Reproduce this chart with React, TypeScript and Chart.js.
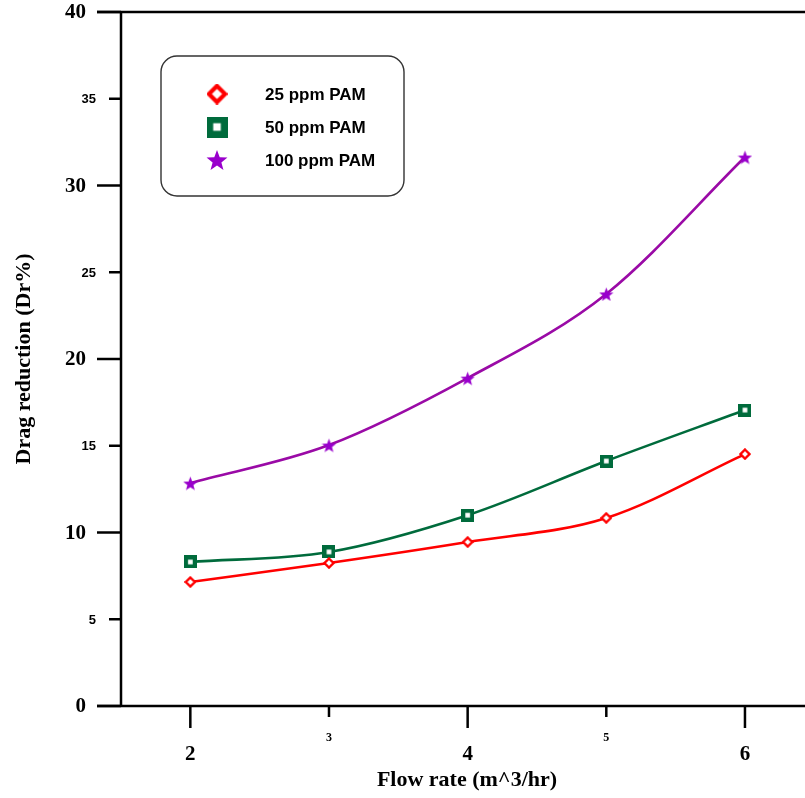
import React, { useEffect, useRef } from "react";
import { Chart, registerables } from "chart.js";

Chart.register(...registerables);

// Flow rate (m^3/hr)
const flowRates = [2, 3, 4, 5, 6];
// Drag reduction (Dr%) for each polymer concentration
const pam25 = [7.15, 8.24, 9.45, 10.84, 14.52];
const pam50 = [8.3, 8.88, 11.0, 14.12, 17.06];
const pam100 = [12.85, 15.04, 18.9, 23.75, 31.64];

const seriesNames = ["25 ppm PAM", "50 ppm PAM", "100 ppm PAM"];
const yTicks = [0, 5, 10, 15, 20, 25, 30, 35, 40];
const xTicks = [2, 3, 4, 5, 6];

const RED = "#ff0000";
const GREEN = "#006b3c";
const PURPLE_LINE = "#9a0aa6";
const PURPLE_MARK = "#9900cc";

type Kind = "diamond" | "square" | "star";

function makeMarker(kind: Kind, size: number): HTMLCanvasElement {
  const c = document.createElement("canvas");
  c.width = size;
  c.height = size;
  const g = c.getContext("2d")!;
  const m = size / 2;
  if (kind === "diamond") {
    const lw = Math.max(2.2, size * 0.2);
    const r = m - lw / 2 - 0.3;
    g.beginPath();
    g.moveTo(m, m - r);
    g.lineTo(m + r, m);
    g.lineTo(m, m + r);
    g.lineTo(m - r, m);
    g.closePath();
    g.fillStyle = "#ffffff";
    g.fill();
    g.lineWidth = lw;
    g.strokeStyle = RED;
    g.stroke();
  } else if (kind === "square") {
    g.fillStyle = GREEN;
    g.fillRect(0, 0, size, size);
    const inner = size * 0.36;
    g.fillStyle = "#ffffff";
    g.fillRect(m - inner / 2, m - inner / 2, inner, inner);
  } else {
    const R = m;
    const r = R * 0.42;
    g.beginPath();
    for (let i = 0; i < 10; i++) {
      const rad = i % 2 === 0 ? R : r;
      const a = -Math.PI / 2 + (i * Math.PI) / 5;
      const px = m + rad * Math.cos(a);
      const py = m + 1 + rad * Math.sin(a);
      if (i === 0) g.moveTo(px, py);
      else g.lineTo(px, py);
    }
    g.closePath();
    g.fillStyle = PURPLE_MARK;
    g.fill();
  }
  return c;
}

export default function App() {
  const canvasRef = useRef<HTMLCanvasElement | null>(null);

  useEffect(() => {
    const canvas = canvasRef.current;
    if (!canvas) return;

    const plotMarks = {
      diamond: makeMarker("diamond", 12),
      square: makeMarker("square", 13),
      star: makeMarker("star", 15),
    };
    const legendMarks = {
      diamond: makeMarker("diamond", 21),
      square: makeMarker("square", 21),
      star: makeMarker("star", 22),
    };

    const axesPlugin = {
      id: "paperAxes",
      afterDraw(chart: any) {
        const ctx = chart.ctx as CanvasRenderingContext2D;
        const { left, right, top, bottom } = chart.chartArea;
        const xs = chart.scales.x;
        const ys = chart.scales.y;
        ctx.save();
        ctx.strokeStyle = "#000";
        ctx.lineWidth = 2.5;
        ctx.lineCap = "butt";

        // frame lines: left axis, top and bottom edges
        ctx.beginPath();
        ctx.moveTo(left, top);
        ctx.lineTo(left, bottom);
        ctx.moveTo(97, top);
        ctx.lineTo(right, top);
        ctx.moveTo(97, bottom);
        ctx.lineTo(right, bottom);
        ctx.stroke();

        // y ticks and labels
        ctx.fillStyle = "#000";
        ctx.textBaseline = "middle";
        ctx.textAlign = "right";
        for (const v of yTicks) {
          const y = ys.getPixelForValue(v);
          const major = v % 10 === 0;
          ctx.beginPath();
          ctx.moveTo(major ? 97 : 109, y);
          ctx.lineTo(left, y);
          ctx.stroke();
          if (major) {
            ctx.font = "bold 21px 'Liberation Serif', 'Times New Roman', serif";
            ctx.fillText(String(v), 86, y + 1);
          } else {
            ctx.font = "bold 13px 'Liberation Sans', Arial, sans-serif";
            ctx.fillText(String(v), 96, y + 1);
          }
        }

        // x ticks and labels
        ctx.textAlign = "center";
        for (const v of xTicks) {
          const x = xs.getPixelForValue(v);
          const major = v % 2 === 0;
          ctx.beginPath();
          ctx.moveTo(x, bottom);
          ctx.lineTo(x, major ? 728 : 717);
          ctx.stroke();
          if (major) {
            ctx.font = "bold 21px 'Liberation Serif', 'Times New Roman', serif";
            ctx.fillText(String(v), x, 755);
          } else {
            ctx.font = "bold 12px 'Liberation Serif', 'Times New Roman', serif";
            ctx.fillText(String(v), x, 738);
          }
        }

        // axis titles
        ctx.font = "bold 22px 'Liberation Serif', 'Times New Roman', serif";
        ctx.fillText("Flow rate (m^3/hr)", 467, 780);
        ctx.save();
        ctx.translate(24, (top + bottom) / 2);
        ctx.rotate(-Math.PI / 2);
        ctx.fillText("Drag reduction (Dr%)", 0, 0);
        ctx.restore();

        // legend box
        const bx = 161, by = 56, bw = 243, bh = 140, br = 16;
        ctx.beginPath();
        ctx.moveTo(bx + br, by);
        ctx.lineTo(bx + bw - br, by);
        ctx.arcTo(bx + bw, by, bx + bw, by + br, br);
        ctx.lineTo(bx + bw, by + bh - br);
        ctx.arcTo(bx + bw, by + bh, bx + bw - br, by + bh, br);
        ctx.lineTo(bx + br, by + bh);
        ctx.arcTo(bx, by + bh, bx, by + bh - br, br);
        ctx.lineTo(bx, by + br);
        ctx.arcTo(bx, by, bx + br, by, br);
        ctx.closePath();
        ctx.fillStyle = "#fff";
        ctx.fill();
        ctx.lineWidth = 1.4;
        ctx.strokeStyle = "#333";
        ctx.stroke();

        const marks = [legendMarks.diamond, legendMarks.square, legendMarks.star];
        const rows = [94, 127, 160];
        ctx.fillStyle = "#000";
        ctx.textAlign = "left";
        ctx.font = "bold 17px 'Liberation Sans', Arial, sans-serif";
        rows.forEach((ry, i) => {
          const mk = marks[i];
          ctx.drawImage(mk, 217 - mk.width / 2, ry - mk.height / 2);
          ctx.fillText(seriesNames[i], 265, ry + 1);
        });
        ctx.restore();
      },
    };

    const toPoints = (vals: number[]) => flowRates.map((x, i) => ({ x, y: vals[i] }));

    const chart = new Chart(canvas, {
      type: "line",
      data: {
        datasets: [
          {
            label: seriesNames[0],
            data: toPoints(pam25),
            borderColor: RED,
            borderWidth: 2.6,
            pointStyle: plotMarks.diamond as any,
            cubicInterpolationMode: "monotone",
          },
          {
            label: seriesNames[1],
            data: toPoints(pam50),
            borderColor: GREEN,
            borderWidth: 2.6,
            pointStyle: plotMarks.square as any,
            cubicInterpolationMode: "monotone",
          },
          {
            label: seriesNames[2],
            data: toPoints(pam100),
            borderColor: PURPLE_LINE,
            borderWidth: 2.6,
            pointStyle: plotMarks.star as any,
            cubicInterpolationMode: "monotone",
          },
        ],
      },
      options: {
        responsive: false,
        animation: false,
        devicePixelRatio: 1,
        layout: { autoPadding: false, padding: { left: 121, top: 12, right: 0, bottom: 92 } },
        plugins: { legend: { display: false }, tooltip: { enabled: false } },
        scales: {
          x: { type: "linear", min: 1.5, max: 6.433, display: false },
          y: { type: "linear", min: 0, max: 40, display: false },
        },
      },
      plugins: [axesPlugin],
    });

    return () => chart.destroy();
  }, []);

  return (
    <div style={{ position: "absolute", left: 0, top: 0, width: 805, height: 798, overflow: "hidden", background: "#fff" }}>
      <canvas ref={canvasRef} width={805} height={798} />
    </div>
  );
}
